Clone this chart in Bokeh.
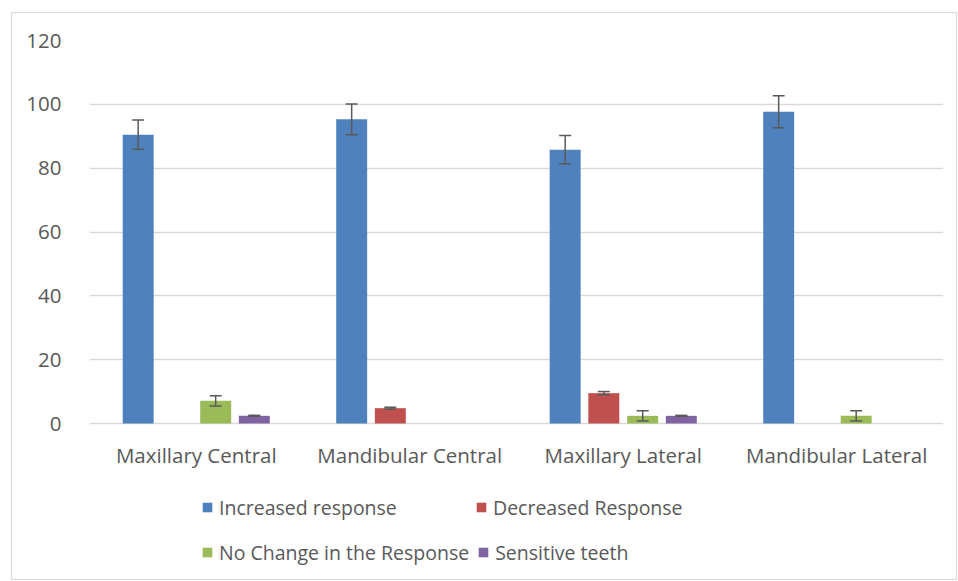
from bokeh.plotting import figure
from bokeh.models import (ColumnDataSource, FactorRange, Range1d, Whisker, TeeHead,
                          Legend, LegendItem, FixedTicker)
from bokeh.core.properties import value
from bokeh.transform import dodge
from bokeh.embed import file_html
from bokeh.resources import INLINE

categories = ["Maxillary Central", "Mandibular Central", "Maxillary Lateral", "Mandibular Lateral"]
series = ["Increased response", "Decreased Response", "No Change in the Response", "Sensitive teeth"]
increased = [90.5, 95.3, 85.8, 97.7]
increased_err = [4.6, 4.8, 4.4, 5.0]
decreased = [0, 4.8, 9.5, 0]
decreased_err = [0, 0.3, 0.5, 0]
no_change = [7.1, 0, 2.4, 2.4]
no_change_err = [1.6, 0, 1.6, 1.6]
sensitive = [2.4, 0, 2.4, 0]
sensitive_err = [0.15, 0, 0.15, 0]
colors = ["#4f81bd", "#c0504d", "#9bbb59", "#8064a2"]
y_ticks = [0, 20, 40, 60, 80, 100, 120]

values = [increased, decreased, no_change, sensitive]
errors = [increased_err, decreased_err, no_change_err, sensitive_err]
offsets = [-0.272, -0.091, 0.091, 0.272]
bar_w = 0.145

FONT = "Open Sans"
TXT = "#595959"
PX_PER_UNIT = 383 / 120.0          # frame scale: 120 units over 383 px
Y_BOTTOM = -(156 / PX_PER_UNIT)     # extra room below zero for labels + legend
LABEL_Y = -(31 / PX_PER_UNIT)

p = figure(width=946, height=568, x_range=FactorRange(*categories),
           y_range=Range1d(Y_BOTTOM, 120),
           output_backend="svg", toolbar_location=None,
           min_border_left=77, min_border_right=15, min_border_top=27, min_border_bottom=2)
p.margin = (12, 0, 0, 11)
p.styles = {"border": "1px solid #d9d9d9", "box-sizing": "border-box"}

p.outline_line_color = None
p.xgrid.grid_line_color = None
p.ygrid.grid_line_color = "#d9d9d9"
p.ygrid.grid_line_width = 1.3
p.yaxis.ticker = FixedTicker(ticks=y_ticks)
p.yaxis.axis_line_color = None
p.yaxis.major_tick_line_color = None
p.yaxis.minor_tick_line_color = None
p.yaxis.major_label_standoff = 22
p.yaxis.major_label_text_font = FONT
p.yaxis.major_label_text_font_size = "20.5px"
p.yaxis.major_label_text_color = TXT
p.xaxis.visible = False

# category labels drawn through the categorical x scale
p.text(x=categories, y=[LABEL_Y] * len(categories), text=categories,
       text_font=value(FONT), text_font_size="20.5px", text_color=TXT,
       text_align="center", text_baseline="middle")

items = {}
for name, vals, errs, off, col in zip(series, values, errors, offsets, colors):
    src = ColumnDataSource(dict(cat=categories, val=vals))
    r = p.vbar(x=dodge("cat", off, range=p.x_range), top="val", width=bar_w, source=src,
               fill_color=col, line_color=None)
    items[name] = LegendItem(label=name, renderers=[r])
    keep = [i for i, v in enumerate(vals) if v > 0]
    wsrc = ColumnDataSource(dict(cat=[categories[i] for i in keep],
                                 lo=[vals[i] - errs[i] for i in keep],
                                 hi=[vals[i] + errs[i] for i in keep]))
    w = Whisker(base=dodge("cat", off, range=p.x_range), lower="lo", upper="hi", source=wsrc,
                level="overlay", line_color="#595959", line_width=1.5,
                upper_head=TeeHead(size=12, line_color="#595959", line_width=1.5),
                lower_head=TeeHead(size=12, line_color="#595959", line_width=1.5))
    p.add_layout(w)

legend_rows = [([series[0], series[1]], 50), ([series[2], series[3]], 5)]
for row, ypos in legend_rows:
    lg = Legend(items=[items[s] for s in row], orientation="horizontal", location=(112, ypos),
                label_text_font=FONT, label_text_font_size="19.5px", label_text_color=TXT,
                glyph_width=12, glyph_height=12, label_standoff=6, spacing=8,
                label_width=248, label_height=44, padding=0, margin=0,
                border_line_color=None, background_fill_alpha=0)
    p.add_layout(lg, "center")

open("out.html", "w").write(file_html(p, INLINE))
